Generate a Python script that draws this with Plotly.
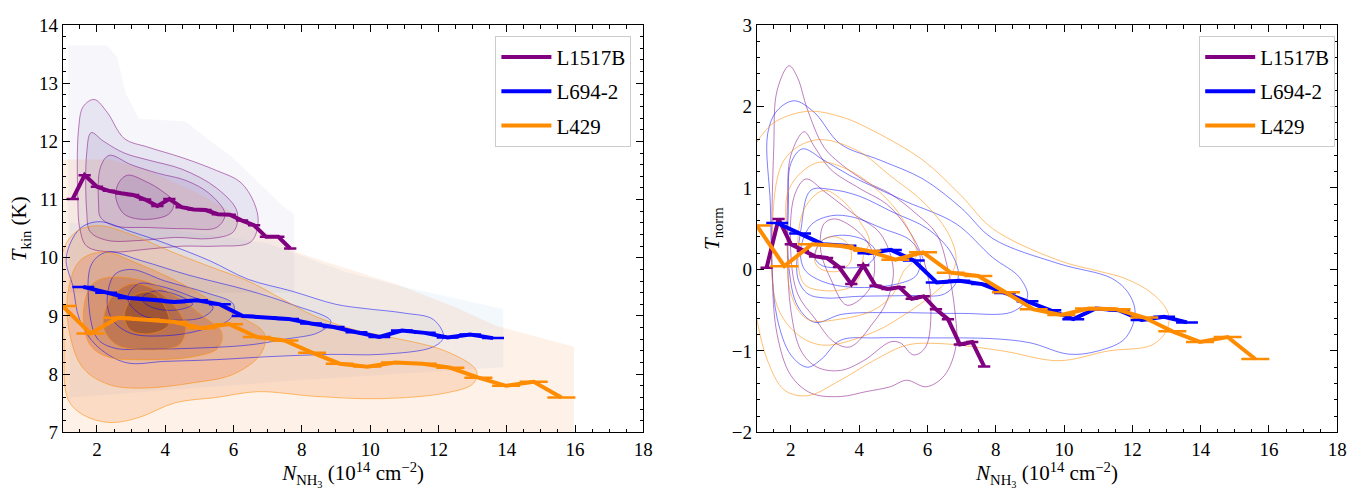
import plotly.graph_objects as go

# ---------------- data ----------------
# binned medians, L1517B
p_x = [1.29, 1.64, 2.00, 2.35, 2.71, 3.06, 3.41, 3.77, 4.12, 4.48, 4.83, 5.18, 5.54, 5.89, 6.25, 6.60, 6.95, 7.31, 7.66]
p_tkin = [11.01, 11.42, 11.22, 11.15, 11.11, 11.08, 11.00, 10.89, 11.01, 10.87, 10.83, 10.82, 10.75, 10.74, 10.64, 10.56, 10.36, 10.36, 10.16]
p_tnorm = [0.02, 0.62, 0.31, 0.23, 0.16, 0.14, 0.03, -0.18, 0.05, -0.20, -0.24, -0.22, -0.36, -0.33, -0.49, -0.61, -0.92, -0.89, -1.19]
p_halfbin = 0.18

# L694-2
b_x = [1.60, 2.27, 2.93, 3.60, 4.27, 4.93, 5.60, 6.27, 6.93, 7.60, 8.27, 8.93, 9.60, 10.27, 10.93, 11.60, 12.27, 12.93, 13.60]
b_tkin = [9.50, 9.40, 9.31, 9.28, 9.24, 9.27, 9.20, 9.00, 8.98, 8.95, 8.87, 8.81, 8.72, 8.64, 8.75, 8.71, 8.63, 8.68, 8.62]
b_tnorm = [0.57, 0.44, 0.31, 0.29, 0.20, 0.24, 0.11, -0.16, -0.14, -0.18, -0.29, -0.39, -0.50, -0.61, -0.48, -0.50, -0.62, -0.58, -0.65]
b_halfbin = 0.32

# L429
o_x = [1.00, 1.81, 2.62, 3.43, 4.24, 5.06, 5.87, 6.68, 7.49, 8.30, 9.11, 9.92, 10.73, 11.54, 12.35, 13.17, 13.98, 14.79, 15.60]
o_tkin = [9.17, 8.70, 8.97, 8.94, 8.90, 8.79, 8.86, 8.64, 8.58, 8.37, 8.18, 8.13, 8.20, 8.18, 8.11, 7.94, 7.80, 7.87, 7.60]
o_tnorm = [0.54, 0.04, 0.31, 0.29, 0.23, 0.12, 0.21, -0.04, -0.08, -0.28, -0.49, -0.56, -0.48, -0.49, -0.59, -0.76, -0.89, -0.83, -1.10]
o_halfbin = 0.41

names = ["L1517B", "L694-2", "L429"]

# ---------------- density outlines, left panel (N, Tkin) ----------------
p_outer = [(1.15, 13.65), (2.3, 13.65), (2.6, 13.44), (2.84, 12.83), (3.23, 12.39), (4.6, 12.34), (5.17, 12.07),
           (5.94, 11.74), (6.72, 11.3), (7.5, 10.86), (7.78, 10.75), (7.78, 9.4), (1.15, 9.4)]
b_outer = [(1.2, 10.6), (4.0, 10.5), (7.0, 10.25), (9.3, 9.75), (11.0, 9.5), (13.9, 9.12), (13.9, 8.12),
           (8.0, 7.9), (1.2, 7.6)]
o_outer = [(1.0, 11.69), (2.4, 11.69), (3.5, 11.5), (5.0, 11.1), (6.5, 10.6), (7.88, 10.09), (8.85, 9.9),
           (10.79, 9.54), (12.5, 9.15), (13.7, 8.83), (15.97, 8.47), (15.97, 7.0), (1.0, 7.0)]

p_lev = [
    [(1.44, 11.0), (1.46, 12.2), (1.6, 12.6), (1.92, 12.72), (2.3, 12.5), (2.8, 12.05), (3.5, 11.9), (4.5, 11.72),
     (5.5, 11.5), (6.2, 11.3), (6.6, 10.95), (6.72, 10.6), (6.5, 10.27), (5.5, 10.2), (4.5, 10.2), (3.5, 10.15),
     (2.4, 10.1), (1.7, 10.2), (1.5, 10.5)],
    [(1.7, 10.8), (1.7, 11.8), (1.83, 12.15), (2.2, 12.0), (2.8, 11.8), (3.5, 11.68), (4.5, 11.52), (5.5, 11.2),
     (6.1, 10.8), (6.0, 10.45), (5.3, 10.33), (4.3, 10.35), (3.3, 10.3), (2.3, 10.3), (1.8, 10.45)],
    [(2.05, 10.9), (2.1, 11.55), (2.36, 11.76), (3.0, 11.6), (3.8, 11.45), (4.6, 11.33), (5.3, 11.1), (5.75, 10.75),
     (5.5, 10.52), (4.6, 10.5), (3.5, 10.52), (2.5, 10.55), (2.1, 10.7)],
    [(2.55, 11.05), (2.65, 11.3), (2.9, 11.42), (3.4, 11.32), (3.9, 11.15), (4.25, 10.95), (4.1, 10.75),
     (3.4, 10.66), (2.8, 10.75)],
]
b_lev = [
    [(1.1, 10.0), (1.5, 10.5), (2.07, 10.62), (3.0, 10.45), (4.0, 10.25), (5.3, 9.95), (6.43, 9.63), (7.69, 9.43),
     (9.0, 9.2), (9.82, 9.13), (11.0, 9.05), (11.85, 8.94), (12.15, 8.64), (11.85, 8.47), (10.3, 8.34),
     (8.85, 8.34), (7.0, 8.3), (5.5, 8.25), (4.0, 8.22), (2.84, 8.2), (1.97, 8.5), (1.49, 8.94), (1.3, 9.5)],
    [(1.75, 9.3), (1.85, 9.9), (2.3, 10.1), (3.3, 9.95), (4.7, 9.7), (6.43, 9.44), (7.7, 9.2), (8.85, 8.91),
     (8.5, 8.72), (7.5, 8.6), (6.43, 8.5), (5.0, 8.45), (3.5, 8.43), (2.5, 8.45), (2.0, 8.62)],
    [(2.3, 9.2), (2.5, 9.7), (3.0, 9.8), (4.0, 9.6), (5.2, 9.4), (6.0, 9.2), (5.9, 8.95), (5.0, 8.75),
     (4.0, 8.66), (3.0, 8.7), (2.5, 8.9)],
    [(2.9, 9.3), (3.2, 9.55), (3.8, 9.52), (4.7, 9.35), (5.4, 9.15), (5.1, 8.98), (4.2, 8.93), (3.3, 9.02)],
    [(3.3, 9.3), (3.7, 9.43), (4.4, 9.35), (4.8, 9.2), (4.3, 9.1), (3.6, 9.15)],
]
o_lev = [
    [(1.0, 10.1), (1.4, 10.45), (2.07, 10.55), (3.0, 10.4), (4.2, 10.1), (5.3, 9.85), (6.43, 9.6), (7.4, 9.3),
     (8.37, 9.0), (9.62, 8.75), (10.3, 8.67), (12.24, 8.39), (13.11, 8.06), (13.02, 7.84), (12.24, 7.68),
     (10.3, 7.58), (8.37, 7.62), (6.72, 7.7), (5.5, 7.6), (4.3, 7.51), (3.2, 7.25), (2.36, 7.17), (1.6, 7.3),
     (1.15, 7.57), (1.03, 8.6)],
    [(1.15, 9.4), (1.5, 9.95), (2.2, 10.1), (3.2, 9.9), (4.5, 9.55), (5.8, 9.1), (6.9, 8.7), (6.8, 8.35),
     (6.0, 8.0), (4.8, 7.85), (3.3, 7.76), (2.36, 7.82), (1.6, 8.1), (1.2, 8.7)],
    [(1.6, 9.0), (1.8, 9.5), (2.2, 9.65), (3.4, 9.6), (4.4, 9.3), (5.1, 9.0), (5.65, 8.72), (5.55, 8.45),
     (4.8, 8.3), (3.3, 8.25), (2.3, 8.3), (1.8, 8.5)],
    [(2.2, 8.8), (2.4, 9.3), (3.0, 9.55), (3.7, 9.45), (4.3, 9.15), (4.6, 8.8), (4.4, 8.5), (3.5, 8.42), (2.6, 8.5)],
    [(2.8, 9.0), (3.1, 9.35), (3.6, 9.4), (4.0, 9.15), (4.1, 8.85), (3.6, 8.7), (3.0, 8.75)],
]

# ---------------- density outlines, right panel (N, Tnorm) ----------------
rp_lev = [
    [(1.45, 0.0), (1.5, 1.5), (1.6, 2.2), (1.95, 2.5), (2.2, 2.35), (2.48, 1.97), (2.97, 1.5), (3.45, 1.3),
     (4.23, 1.07), (4.91, 0.93), (5.68, 0.68), (6.26, 0.44), (6.6, 0.0), (6.8, -0.5), (6.84, -0.93), (6.5, -1.3),
     (5.97, -1.44), (5.39, -1.36), (4.91, -1.44), (4.2, -1.5), (3.45, -1.56), (2.6, -1.52), (2.0, -1.3), (1.6, -0.8)],
    [(1.9, 0.2), (1.9, 0.8), (2.0, 1.4), (2.39, 1.69), (2.7, 1.5), (3.16, 1.23), (4.03, 0.99), (4.81, 0.8),
     (5.39, 0.52), (5.9, 0.1), (6.1, -0.4), (5.95, -0.95), (5.6, -1.05), (5.2, -0.9), (4.91, -0.89), (4.13, -1.12),
     (3.45, -1.24), (2.77, -1.2), (2.3, -1.0), (2.0, -0.5)],
    [(2.0, 0.2), (2.1, 0.9), (2.44, 1.11), (3.0, 0.95), (3.84, 0.68), (4.62, 0.44), (5.0, 0.0), (4.8, -0.4),
     (4.42, -0.65), (3.74, -0.95), (3.26, -0.89), (2.7, -0.6), (2.2, -0.3)],
    [(2.87, 0.25), (2.97, 0.56), (3.3, 0.62), (4.03, 0.44), (4.42, 0.17), (4.33, -0.22), (3.65, -0.44), (3.16, -0.11)],
]
rb_lev = [
    [(1.4, 0.8), (1.32, 1.66), (1.6, 1.95), (2.1, 2.07), (2.68, 1.93), (3.45, 1.54), (4.62, 1.34), (5.87, 1.11),
     (7.0, 0.75), (7.91, 0.38), (9.85, 0.07), (11.4, -0.11), (11.9, -0.3), (12.08, -0.54), (11.78, -0.85),
     (11.0, -1.0), (10.14, -1.04), (9.0, -0.9), (7.91, -0.85), (6.0, -0.84), (4.5, -0.84), (3.45, -0.87),
     (2.9, -1.1), (2.48, -1.2), (2.0, -1.05), (1.6, -0.6), (1.45, 0.0)],
    [(1.93, 0.8), (2.0, 1.3), (2.34, 1.48), (2.97, 1.34), (3.74, 1.15), (4.5, 1.0), (5.39, 0.83), (6.84, 0.56),
     (7.9, 0.15), (8.7, -0.1), (8.93, -0.34), (8.49, -0.52), (7.0, -0.54), (5.0, -0.53), (3.5, -0.55),
     (2.7, -0.65), (2.2, -0.45), (1.95, 0.0)],
    [(2.2, -0.1), (2.3, 0.5), (2.58, 0.97), (3.2, 0.98), (4.0, 0.9), (5.0, 0.7), (6.0, 0.5), (6.7, 0.2),
     (6.9, -0.1), (6.5, -0.3), (5.5, -0.32), (4.0, -0.33), (3.0, -0.35), (2.5, -0.3)],
    [(2.29, 0.25), (2.6, 0.55), (3.2, 0.66), (3.84, 0.64), (4.7, 0.5), (5.49, 0.36), (5.78, 0.17), (5.68, -0.07),
     (5.1, -0.18), (3.84, -0.22), (2.94, -0.15), (2.4, 0.0)],
    [(2.7, 0.15), (2.9, 0.35), (3.5, 0.42), (4.2, 0.35), (4.5, 0.2), (4.2, 0.05), (3.5, 0.02), (2.9, 0.05)],
]
ro_open = [(1.0, 1.56), (1.5, 1.8), (2.48, 1.94), (3.5, 1.87), (4.42, 1.70), (5.87, 1.34), (7.0, 0.9), (7.91, 0.5),
           (9.85, 0.11), (11.0, -0.02), (11.78, -0.11), (12.6, -0.3), (13.05, -0.54), (13.0, -0.75), (12.56, -0.93),
           (11.3, -1.0), (9.85, -1.12), (8.2, -1.0), (6.36, -0.91), (5.39, -0.93), (4.42, -1.12), (3.45, -1.36),
           (2.48, -1.55), (1.81, -1.48), (1.3, -1.1), (1.0, -0.6)]
ro_lev = [
    [(1.45, 0.3), (1.8, 1.34), (2.73, 1.59), (3.94, 1.46), (4.91, 1.15), (5.87, 0.83), (6.6, 0.45), (6.84, 0.13),
     (6.65, -0.1), (6.17, -0.3), (5.39, -0.54), (4.42, -0.77), (2.97, -0.93), (2.2, -0.8), (1.6, -0.45)],
    [(1.9, 0.3), (1.95, 0.99), (2.77, 1.31), (3.65, 1.23), (4.6, 0.95), (5.3, 0.6), (5.68, 0.17), (5.29, -0.03),
     (5.0, -0.3), (4.42, -0.5), (3.45, -0.61), (2.48, -0.61), (2.0, -0.3)],
    [(2.2, 0.2), (2.4, 0.75), (2.97, 0.97), (3.5, 0.85), (4.0, 0.6), (4.3, 0.35), (4.13, 0.17), (4.0, -0.1),
     (3.74, -0.22), (2.97, -0.26), (2.39, -0.18)],
    [(2.7, 0.1), (2.9, 0.35), (3.3, 0.4), (3.7, 0.3), (3.75, 0.1), (3.4, -0.02), (2.9, 0.0)],
]

# ---------------- styling ----------------
C_P, C_B, C_O = "#800080", "#0000ff", "#ff8c00"
LC_P, LC_B, LC_O = "rgba(128,0,128,0.5)", "rgba(0,0,255,0.5)", "rgba(255,140,0,0.55)"
P_FILLS = ["rgba(117,107,177,0.12)", "rgba(106,81,163,0.12)", "rgba(84,39,143,0.10)", "rgba(63,0,125,0.10)"]
B_FILLS = ["rgba(33,113,181,0.05)", "rgba(8,81,156,0.07)", "rgba(8,48,107,0.09)", "rgba(8,48,107,0.11)", "rgba(8,48,107,0.13)"]
O_FILLS = ["rgba(241,105,19,0.16)", "rgba(230,85,13,0.20)", "rgba(190,65,8,0.24)", "rgba(140,45,4,0.28)", "rgba(110,35,4,0.32)"]
FONT = "Liberation Serif"

fig = go.Figure()


def poly(pts, xa, ya, fill=None, line=None, lw=1.0, closed=True, shape="spline"):
    xs = [p[0] for p in pts]
    ys = [p[1] for p in pts]
    if closed:
        xs = xs + [xs[0]]
        ys = ys + [ys[0]]
    fig.add_trace(go.Scatter(
        x=xs, y=ys, xaxis=xa, yaxis=ya, mode="lines",
        line=dict(color=line if line else "rgba(0,0,0,0)", width=lw if line else 0, shape=shape, smoothing=1.0),
        fill="toself" if fill else None, fillcolor=fill,
        hoverinfo="skip", showlegend=False))


# left panel fills
poly(p_outer, "x", "y", fill="rgba(117,107,177,0.06)", shape="linear")
for lev, fc in zip(p_lev, P_FILLS):
    poly(lev, "x", "y", fill=fc)
poly(b_outer, "x", "y", fill="rgba(120,180,230,0.09)", shape="linear")
for lev, fc in zip(b_lev, B_FILLS):
    poly(lev, "x", "y", fill=fc)
poly(o_outer, "x", "y", fill="rgba(245,120,30,0.10)", shape="linear")
for lev, fc in zip(o_lev, O_FILLS):
    poly(lev, "x", "y", fill=fc)
# left panel contour lines
for lev in p_lev:
    poly(lev, "x", "y", line=LC_P)
for lev in b_lev:
    poly(lev, "x", "y", line=LC_B)
for lev in o_lev:
    poly(lev, "x", "y", line=LC_O)

# right panel contour lines
for lev in rp_lev:
    poly(lev, "x2", "y2", line=LC_P)
for lev in rb_lev:
    poly(lev, "x2", "y2", line=LC_B)
poly(ro_open, "x2", "y2", line=LC_O, closed=False)
for lev in ro_lev:
    poly(lev, "x2", "y2", line=LC_O)

# binned curves
series = [(p_x, p_tkin, p_tnorm, p_halfbin, C_P, names[0]),
          (b_x, b_tkin, b_tnorm, b_halfbin, C_B, names[1]),
          (o_x, o_tkin, o_tnorm, o_halfbin, C_O, names[2])]
for i, (xs, yk, yn, hb, col, nm) in enumerate(series):
    for xa, ya, yv, leg in (("x", "y", yk, "legend"), ("x2", "y2", yn, "legend2")):
        fig.add_trace(go.Scatter(
            x=xs, y=yv, xaxis=xa, yaxis=ya, mode="lines", name=nm,
            line=dict(color=col, width=4),
            error_x=dict(type="constant", value=hb, color=col, thickness=2.5, width=0),
            legend=leg, legendgroup=f"{leg}{i}", showlegend=True))

axis_common = dict(
    showline=True, linecolor="black", linewidth=1, mirror="allticks",
    ticks="inside", ticklen=7, tickwidth=1, tickcolor="black",
    showgrid=False, zeroline=False,
    tickfont=dict(family=FONT, size=19, color="black"),
)
xtitle = "<i>N</i><sub>NH<sub>3</sub></sub> (10<sup>14</sup> cm<sup>\u22122</sup>)"
TFONT = dict(family=FONT, size=21, color="black")

fig.update_layout(
    width=1369, height=490,
    margin=dict(l=0, r=0, t=0, b=0),
    paper_bgcolor="white", plot_bgcolor="white",
    font=dict(family=FONT, color="black"),
    xaxis=dict(domain=[0.0462, 0.4734], range=[1, 18], dtick=2, tick0=0, anchor="y",
               minor=dict(ticks="inside", ticklen=3.5, dtick=0.5, tick0=0, tickcolor="black"),
               title=dict(text=xtitle, font=TFONT, standoff=4), **axis_common),
    yaxis=dict(domain=[0.0994, 0.968], range=[7, 14], dtick=1, anchor="x",
               minor=dict(ticks="inside", ticklen=3.5, dtick=0.2, tickcolor="black"),
               title=dict(text="<i>T</i><sub>kin</sub> (K)", font=TFONT, standoff=6), **axis_common),
    xaxis2=dict(domain=[0.5568, 0.984], range=[1, 18], dtick=2, tick0=0, anchor="y2",
                minor=dict(ticks="inside", ticklen=3.5, dtick=0.5, tick0=0, tickcolor="black"),
                title=dict(text=xtitle, font=TFONT, standoff=4), **axis_common),
    yaxis2=dict(domain=[0.0994, 0.968], range=[-2, 3], dtick=1, anchor="x2",
                minor=dict(ticks="inside", ticklen=3.5, dtick=0.2, tickcolor="black"),
                title=dict(text="<i>T</i><sub>norm</sub>", font=TFONT, standoff=6), **axis_common),
    legend=dict(x=0.4646, y=0.945, xanchor="right", yanchor="top", bgcolor="rgba(255,255,255,0.85)",
                bordercolor="#cccccc", borderwidth=1, font=dict(family=FONT, size=21),
                tracegroupgap=4, itemwidth=50),
    legend2=dict(x=0.9825, y=0.945, xanchor="right", yanchor="top", bgcolor="rgba(255,255,255,0.85)",
                 bordercolor="#cccccc", borderwidth=1, font=dict(family=FONT, size=21),
                 tracegroupgap=4, itemwidth=50),
)

fig.write_html("out.html")
